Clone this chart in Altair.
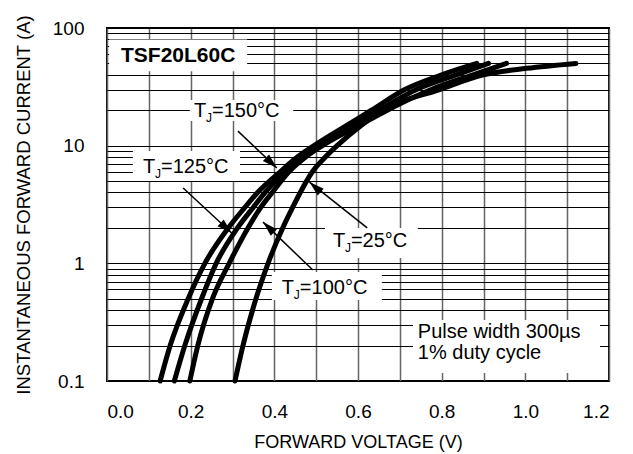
import altair as alt
import pandas as pd

FONT = "Liberation Sans"

# ---- curve data (forward voltage V, forward current A) ----
v150 = [0.127, 0.151, 0.194, 0.234, 0.29, 0.33, 0.36, 0.414, 0.455, 0.495, 0.575, 0.632, 0.712, 0.80, 0.884]
i150 = [0.1, 0.2, 0.5, 1, 2, 3, 4, 6, 8, 10, 15, 20, 30, 40, 50]

v125 = [0.161, 0.186, 0.226, 0.261, 0.312, 0.35, 0.378, 0.425, 0.465, 0.505, 0.59, 0.65, 0.74, 0.835, 0.912]
i125 = [0.1, 0.2, 0.5, 1, 2, 3, 4, 6, 8, 10, 15, 20, 30, 40, 50]

v100 = [0.198, 0.217, 0.252, 0.292, 0.337, 0.368, 0.395, 0.435, 0.475, 0.515, 0.605, 0.67, 0.775, 0.875, 0.955]
i100 = [0.1, 0.2, 0.5, 1, 2, 3, 4, 6, 8, 10, 15, 20, 30, 40, 50]

v25 = [0.306, 0.325, 0.356, 0.385, 0.420, 0.444, 0.462, 0.491, 0.522, 0.550, 0.609, 0.659, 0.795, 0.90, 1.003, 1.121]
i25 = [0.1, 0.2, 0.5, 1, 2, 3, 4, 6, 8, 10, 15, 20, 30, 40, 45.4, 50]

# ---- annotation labels (data coordinates) ----
lab_names = ["150", "125", "25", "100"]
lab_rest = ["=150°C", "=125°C", "=25°C", "=100°C"]
lab_v = [0.208, 0.086, 0.540, 0.418]
lab_i = [17.5, 5.85, 1.375, 0.548]

# white label boxes: v1, v2, i1, i2
box_v1 = [0.005, 0.198, 0.062, 0.521, 0.394, 0.7315]
box_v2 = [0.335, 0.445, 0.318, 0.743, 0.657, 1.1786]
box_i1 = [43, 16.2, 5.0, 1.11, 0.488, 0.117]
box_i2 = [80, 24.4, 9.0, 2.0, 0.843, 0.33]

# arrows: start (v, i) -> tip (v, i), tip angle (deg)
arr_v0 = [0.313, 0.182, 0.622, 0.492]
arr_i0 = [13.3, 4.37, 2.0, 0.877]
arr_v1 = [0.406, 0.298, 0.484, 0.373]
arr_i1 = [6.45, 1.81, 4.9, 2.24]
arr_ang = [133.5, 132.7, 311.6, 313.8]

title_text = "TSF20L60C"
title_v, title_i = 0.0335, 51.3
note_lines = ["Pulse width 300µs", "1% duty cycle"]
note_v = [0.743, 0.743]
note_i = [0.232, 0.154]

x_grid = [0.0, 0.1, 0.2, 0.3, 0.4, 0.5, 0.6, 0.7, 0.8, 0.9, 1.0, 1.1, 1.2]
y_grid = [0.1, 0.2, 0.3, 0.4, 0.5, 0.6, 0.7, 0.8, 0.9,
          1, 2, 3, 4, 5, 6, 7, 8, 9,
          10, 20, 30, 40, 50, 60, 70, 80, 90, 100]

# ---- tables ----
rows = []
for name, vs, cs in [("150", v150, i150), ("125", v125, i125), ("100", v100, i100), ("25", v25, i25)]:
    for k, (a, b) in enumerate(zip(vs, cs)):
        rows.append({"curve": name, "v": a, "i": b, "o": k})
curves = pd.DataFrame(rows)

boxes = pd.DataFrame({"v1": box_v1, "v2": box_v2, "i1": box_i1, "i2": box_i2})

arr_rows = []
for k in range(len(arr_v0)):
    arr_rows.append({"a": k, "v": arr_v0[k], "i": arr_i0[k], "o": 0})
    arr_rows.append({"a": k, "v": arr_v1[k], "i": arr_i1[k], "o": 1})
arrows = pd.DataFrame(arr_rows)
heads = pd.DataFrame({"v": arr_v1, "i": arr_i1, "ang": arr_ang})

labels = pd.DataFrame({"name": lab_names, "rest": lab_rest, "v": lab_v, "i": lab_i})
title_df = pd.DataFrame({"t": [title_text], "v": [title_v], "i": [title_i]})
notes = pd.DataFrame({"t": note_lines, "v": note_v, "i": note_i})

xscale = alt.Scale(domain=[0, 1.2], nice=False, zero=False)
yscale = alt.Scale(type="log", domain=[0.1, 100], nice=False)

X = alt.X("v:Q", scale=xscale,
          axis=alt.Axis(values=x_grid, grid=True, gridColor="#666666", gridWidth=1.5,
                        ticks=False, domain=False, labelPadding=21,
                        labelExpr="round(datum.value*10) % 2 == 0 ? format(datum.value, '.1f') : ''",
                        labelFont=FONT, labelFontSize=19, labelColor="black",
                        title="FORWARD VOLTAGE (V)", titleFont=FONT, titleFontSize=18,
                        titleFontWeight="normal", titleColor="black", titlePadding=12))
Y = alt.Y("i:Q", scale=yscale,
          axis=alt.Axis(values=y_grid, grid=True, gridColor="black", gridWidth=1,
                        ticks=False, domain=False, labelPadding=23,
                        labelExpr="abs(log(datum.value)/LN10 - round(log(datum.value)/LN10)) < 0.001 ? format(datum.value, '~g') : ''",
                        labelFont=FONT, labelFontSize=19, labelColor="black",
                        title="INSTANTANEOUS FORWARD CURRENT (A)", titleFont=FONT, titleFontSize=18.5,
                        titleFontWeight="normal", titleColor="black", titlePadding=19))

base_x = alt.X("v:Q", scale=xscale)
base_y = alt.Y("i:Q", scale=yscale)

lines = alt.Chart(curves).mark_line(color="black", strokeWidth=5, strokeCap="round",
                                    strokeJoin="round", interpolate="monotone").encode(
    x=X, y=Y, detail="curve:N", order="o:Q")

rects = alt.Chart(boxes).mark_rect(color="white").encode(
    x=alt.X("v1:Q", scale=xscale), x2="v2:Q",
    y=alt.Y("i1:Q", scale=yscale), y2="i2:Q")

arrow_lines = alt.Chart(arrows).mark_line(color="black", strokeWidth=1.5).encode(
    x=base_x, y=base_y, detail="a:N", order="o:Q")

arrow_heads = alt.Chart(heads).mark_point(
    shape="M0,0L-0.45,1.5L0.45,1.5Z", filled=True, color="black", opacity=1, size=400).encode(
    x=base_x, y=base_y, angle=alt.Angle("ang:Q", scale=None))

t_T = alt.Chart(labels).mark_text(align="left", baseline="alphabetic", font=FONT, fontSize=20,
                                  color="black").encode(x=base_x, y=base_y, text=alt.value("T"))
t_J = alt.Chart(labels).mark_text(align="left", baseline="alphabetic", font=FONT, fontSize=12,
                                  color="black", dx=12, dy=5).encode(x=base_x, y=base_y, text=alt.value("J"))
t_R = alt.Chart(labels).mark_text(align="left", baseline="alphabetic", font=FONT, fontSize=20,
                                  color="black", dx=18).encode(x=base_x, y=base_y, text="rest:N")

t_title = alt.Chart(title_df).mark_text(align="left", baseline="alphabetic", font=FONT, fontSize=21,
                                        fontWeight="bold", color="black").encode(
    x=base_x, y=base_y, text="t:N")
t_notes = alt.Chart(notes).mark_text(align="left", baseline="alphabetic", font=FONT, fontSize=20,
                                     color="black").encode(x=base_x, y=base_y, text="t:N")

chart = alt.layer(lines, rects, arrow_lines, arrow_heads, t_T, t_J, t_R, t_title, t_notes).properties(
    width=502, height=353,
    autosize=alt.AutoSizeParams(type="none"),
    padding={"left": 107, "top": 28, "right": 24, "bottom": 73},
    background="white",
).configure_view(stroke="black", strokeWidth=2)

chart.save("out.html", embed_options={"renderer": "svg", "actions": False})
